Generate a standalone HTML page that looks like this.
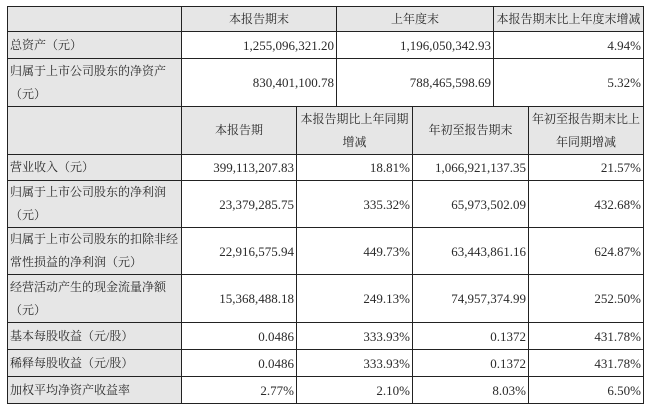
<!DOCTYPE html><html><head><meta charset="utf-8"><style>
body{margin:0;width:648px;height:407px;background:#fff;overflow:hidden;font-family:"Liberation Serif","Noto Serif CJK SC",serif;font-size:13px;color:#2a2a2a}
.c{position:absolute;box-sizing:border-box;border:1px solid #222;display:flex;align-items:center;padding:0 2px;line-height:23px;white-space:nowrap}
.g{background:#e6e6e6;font-size:12px}
.m{justify-content:center;text-align:center}
.r{justify-content:flex-end}
</style></head><body>
<div class="c g" style="left:7px;top:6px;width:175px;height:26px"></div>
<div class="c g m" style="left:181px;top:6px;width:156px;height:26px">本报告期末</div>
<div class="c g m" style="left:336px;top:6px;width:158px;height:26px">上年度末</div>
<div class="c g m" style="left:493px;top:6px;width:151px;height:26px;padding:0">本报告期末比上年度末增减</div>

<div class="c g" style="left:7px;top:31px;width:175px;height:28px">总资产（元）</div>
<div class="c r" style="left:181px;top:31px;width:156px;height:28px">1,255,096,321.20</div>
<div class="c r" style="left:336px;top:31px;width:158px;height:28px">1,196,050,342.93</div>
<div class="c r" style="left:493px;top:31px;width:151px;height:28px">4.94%</div>

<div class="c g" style="left:7px;top:58px;width:175px;height:49px">归属于上市公司股东的净资产<br>（元）</div>
<div class="c r" style="left:181px;top:58px;width:156px;height:49px">830,401,100.78</div>
<div class="c r" style="left:336px;top:58px;width:158px;height:49px">788,465,598.69</div>
<div class="c r" style="left:493px;top:58px;width:151px;height:49px">5.32%</div>

<div class="c g" style="left:7px;top:106px;width:175px;height:49px"></div>
<div class="c g m" style="left:181px;top:106px;width:116px;height:49px">本报告期</div>
<div class="c g m" style="left:296px;top:106px;width:117px;height:49px">本报告期比上年同期<br>增减</div>
<div class="c g m" style="left:412px;top:106px;width:117px;height:49px">年初至报告期末</div>
<div class="c g m" style="left:528px;top:106px;width:116px;height:49px">年初至报告期末比上<br>年同期增减</div>

<div class="c g" style="left:7px;top:154px;width:175px;height:27px">营业收入（元）</div>
<div class="c r" style="left:181px;top:154px;width:116px;height:27px">399,113,207.83</div>
<div class="c r" style="left:296px;top:154px;width:117px;height:27px">18.81%</div>
<div class="c r" style="left:412px;top:154px;width:117px;height:27px">1,066,921,137.35</div>
<div class="c r" style="left:528px;top:154px;width:116px;height:27px">21.57%</div>

<div class="c g" style="left:7px;top:180px;width:175px;height:48px">归属于上市公司股东的净利润<br>（元）</div>
<div class="c r" style="left:181px;top:180px;width:116px;height:48px">23,379,285.75</div>
<div class="c r" style="left:296px;top:180px;width:117px;height:48px">335.32%</div>
<div class="c r" style="left:412px;top:180px;width:117px;height:48px">65,973,502.09</div>
<div class="c r" style="left:528px;top:180px;width:116px;height:48px">432.68%</div>

<div class="c g" style="left:7px;top:227px;width:175px;height:48px">归属于上市公司股东的扣除非经<br>常性损益的净利润（元）</div>
<div class="c r" style="left:181px;top:227px;width:116px;height:48px">22,916,575.94</div>
<div class="c r" style="left:296px;top:227px;width:117px;height:48px">449.73%</div>
<div class="c r" style="left:412px;top:227px;width:117px;height:48px">63,443,861.16</div>
<div class="c r" style="left:528px;top:227px;width:116px;height:48px">624.87%</div>

<div class="c g" style="left:7px;top:274px;width:175px;height:49px">经营活动产生的现金流量净额<br>（元）</div>
<div class="c r" style="left:181px;top:274px;width:116px;height:49px">15,368,488.18</div>
<div class="c r" style="left:296px;top:274px;width:117px;height:49px">249.13%</div>
<div class="c r" style="left:412px;top:274px;width:117px;height:49px">74,957,374.99</div>
<div class="c r" style="left:528px;top:274px;width:116px;height:49px">252.50%</div>

<div class="c g" style="left:7px;top:322px;width:175px;height:28px">基本每股收益（元/股）</div>
<div class="c r" style="left:181px;top:322px;width:116px;height:28px">0.0486</div>
<div class="c r" style="left:296px;top:322px;width:117px;height:28px">333.93%</div>
<div class="c r" style="left:412px;top:322px;width:117px;height:28px">0.1372</div>
<div class="c r" style="left:528px;top:322px;width:116px;height:28px">431.78%</div>

<div class="c g" style="left:7px;top:349px;width:175px;height:28px">稀释每股收益（元/股）</div>
<div class="c r" style="left:181px;top:349px;width:116px;height:28px">0.0486</div>
<div class="c r" style="left:296px;top:349px;width:117px;height:28px">333.93%</div>
<div class="c r" style="left:412px;top:349px;width:117px;height:28px">0.1372</div>
<div class="c r" style="left:528px;top:349px;width:116px;height:28px">431.78%</div>

<div class="c g" style="left:7px;top:376px;width:175px;height:28px">加权平均净资产收益率</div>
<div class="c r" style="left:181px;top:376px;width:116px;height:28px">2.77%</div>
<div class="c r" style="left:296px;top:376px;width:117px;height:28px">2.10%</div>
<div class="c r" style="left:412px;top:376px;width:117px;height:28px">8.03%</div>
<div class="c r" style="left:528px;top:376px;width:116px;height:28px">6.50%</div>
</body></html>
